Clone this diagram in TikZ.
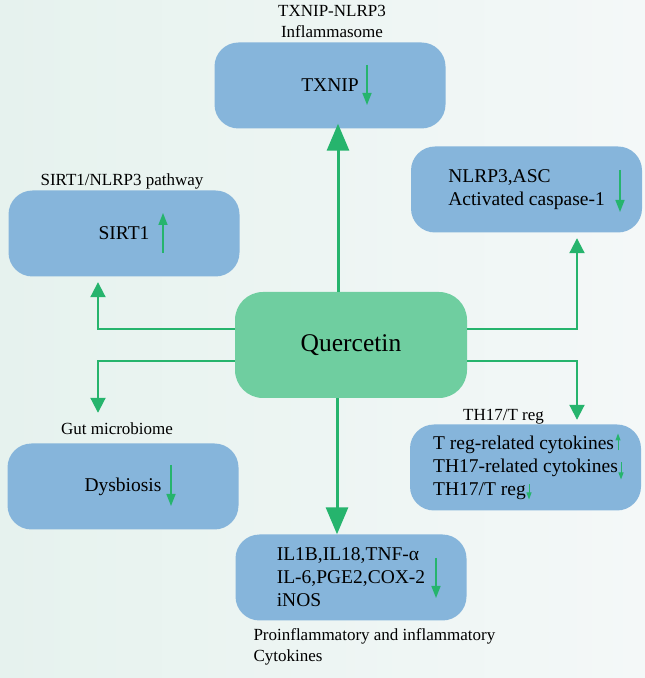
\documentclass[tikz,border=0pt]{standalone}
\usepackage{fontspec}
\setmainfont{Liberation Serif}
\usetikzlibrary{positioning,calc,arrows.meta}

\definecolor{boxblue}{HTML}{86B5DB}
\definecolor{quergreen}{HTML}{6FCEA0}
\definecolor{arrowgreen}{HTML}{26B46D}
\definecolor{bgleft}{HTML}{E6F2EE}
\definecolor{bgright}{HTML}{F4F8F8}

\begin{document}
\begin{tikzpicture}[
    x=1pt,y=1pt,
    pathway/.style={rectangle,rounded corners=24pt,fill=boxblue,inner sep=0pt,minimum width=231pt,minimum height=86pt,align=left,font=\fontsize{19.5}{23}\selectfont},
    drug/.style={rectangle,rounded corners=28pt,fill=quergreen,inner sep=0pt,minimum width=232pt,minimum height=106pt,font=\fontsize{25.5}{30}\selectfont},
    caption/.style={inner sep=0pt,align=center,font=\fontsize{17}{21}\selectfont},
    link/.style={arrowgreen,line width=2pt,-{Triangle[width=15pt,length=15pt]}},
    mainlink/.style={arrowgreen,line width=3pt,-{Triangle[width=22pt,length=27pt]}},
    trend/.style={arrowgreen,line width=1.5pt,-{Triangle[width=9pt,length=12pt]}},
    smalltrend/.style={arrowgreen,line width=1pt,-{Triangle[width=5pt,length=7pt]}}
    ]

   \fill[left color=bgleft,right color=bgright] (0,0) rectangle (645,678);
   \useasboundingbox (0,0) rectangle (645,678);

   \node(quer) [drug] at (351,333) {Quercetin};

   \node(txnip) [pathway] at (330,592.5) {TXNIP};
   \node(sirt) [pathway] at (124,444.5) {SIRT1};
   \node(nlrp) [pathway] at (526.5,488.5) {NLRP3,ASC\\Activated caspase-1};
   \node(gut) [pathway] at (123,191.5) {Dysbiosis};
   \node(th17) [pathway] at (525.5,210.5) {T reg-related cytokines\\TH17-related cytokines\\TH17/T reg};
   \node(cyto) [pathway] at (351,100.5) {IL1B,IL18,TNF-α\\IL-6,PGE2,COX-2\\iNOS};

   \node(txnipcap) [caption,above=4pt of txnip,xshift=2pt] {TXNIP-NLRP3\\Inflammasome};
   \node(sirtcap) [caption,above=1pt of sirt,xshift=-2pt] {SIRT1/NLRP3 pathway};
   \node(gutcap) [caption,above=8.5pt of gut,xshift=-6pt] {Gut microbiome};
   \node(th17cap) [caption,above=0pt of th17,xshift=-22pt] {TH17/T reg};
   \node(cytocap) [caption,align=left,below right=7.5pt and 18pt of cyto.south west] {Proinflammatory and inflammatory\\Cytokines};

   \draw[mainlink] ($(quer.north)+(-13,0)$) -- ($(txnip.south)+(8,5)$);
   \draw[mainlink] ($(quer.south)+(-14,0)$) -- ($(cyto.north)+(-14,0)$);

   \draw[link] ($(quer.west)+(0,16)$) -| ($(sirt.south)+(-26,-5.5)$);
   \draw[link] ($(quer.west)+(0,-16)$) -| ($(gut.north)+(-25,30.5)$);
   \draw[link] ($(quer.east)+(0,16)$) -| ($(nlrp.south)+(50.5,-5.5)$);
   \draw[link] ($(quer.east)+(0,-16)$) -| ($(th17.north)+(51.5,4.5)$);

   % up / down markers inside the boxes
   \foreach \n/\dx/\ya/\yb in {txnip/37/20.5/-19.5, sirt/39/-19.5/20.5, nlrp/93.5/19.5/-22.5, gut/48/21.5/-19.5, cyto/85/19.5/-20.5} {
      \draw[trend] ($(\n.center)+(\dx,\ya)$) -- ($(\n.center)+(\dx,\yb)$);
   }
   \foreach \dx/\ya/\yb in {92.5/17/34, 95.5/5/-12, 3.5/-17/-32} {
      \draw[smalltrend] ($(th17.center)+(\dx,\ya)$) -- ($(th17.center)+(\dx,\yb)$);
   }

\end{tikzpicture}
\end{document}
